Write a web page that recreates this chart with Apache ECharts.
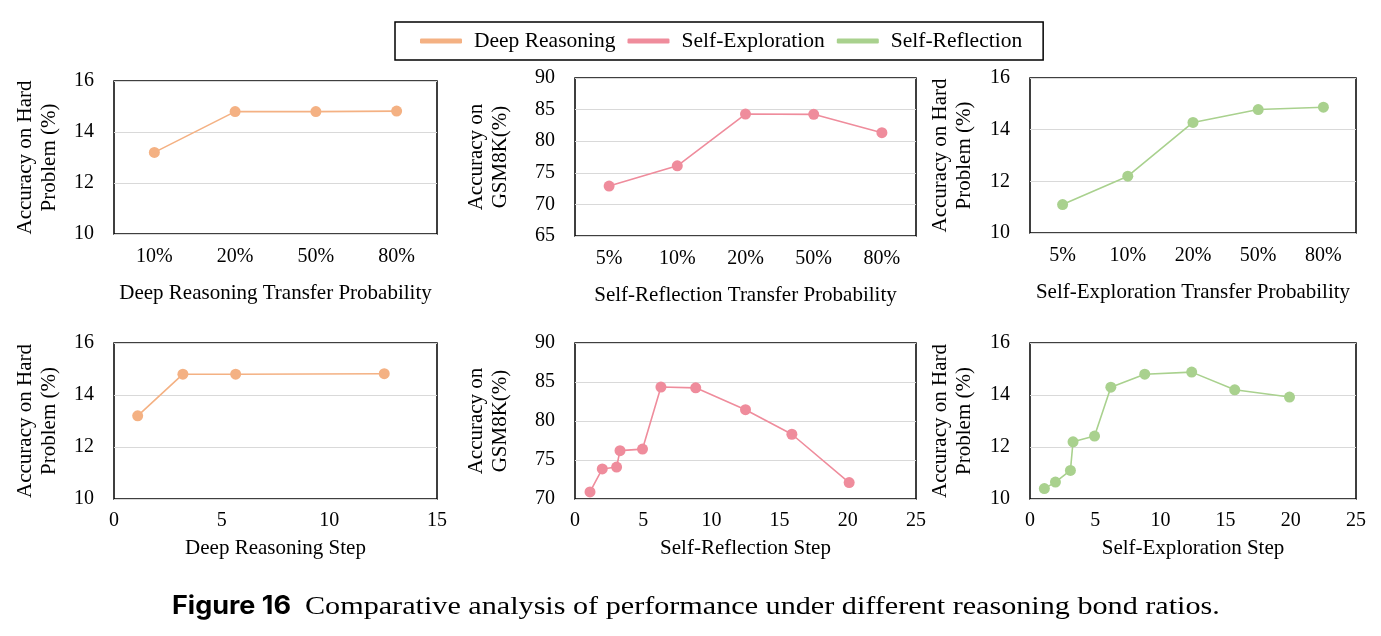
<!DOCTYPE html>
<html>
<head>
<meta charset="utf-8">
<script src="https://cdn.jsdelivr.net/npm/echarts@6/dist/echarts.min.js"></script>
<style>
html,body{margin:0;padding:0;background:#fff;}
#chart{width:1381px;height:636px;}
</style>
</head>
<body>
<div id="chart"></div>
<script>
// ---- data ----
const probCats4 = ['10%', '20%', '50%', '80%'];
const probCats5 = ['5%', '10%', '20%', '50%', '80%'];
const deepProbAcc = [13.2, 14.8, 14.8, 14.82];
const reflProbAcc = [72.9, 76.1, 84.3, 84.25, 81.35];
const explProbAcc = [11.1, 12.2, 14.28, 14.78, 14.87];
const deepStepX = [1.1, 3.2, 5.65, 12.55];
const deepStepAcc = [13.2, 14.8, 14.8, 14.82];
const reflStepX = [1.1, 2.0, 3.05, 3.3, 4.95, 6.3, 8.85, 12.5, 15.9, 20.1];
const reflStepAcc = [70.9, 73.85, 74.1, 76.2, 76.4, 84.35, 84.25, 81.45, 78.3, 72.1];
const explStepX = [1.1, 1.95, 3.1, 3.3, 4.95, 6.2, 8.8, 12.4, 15.7, 19.9];
const explStepAcc = [10.4, 10.65, 11.1, 12.2, 12.42, 14.3, 14.8, 14.88, 14.2, 13.92];
const legendNames = ['Deep Reasoning', 'Self-Exploration', 'Self-Reflection'];
const captionLabel = 'Figure 16';
const captionText = 'Comparative analysis of performance under different reasoning bond ratios.';

const COLORS = { orange: '#F4B183', pink: '#EF8C9C', green: '#A9D18E' };
const FONT = 'Liberation Serif';

const grids = [
  { left: 114, top: 81, width: 323, height: 153 },
  { left: 575, top: 78, width: 341, height: 158 },
  { left: 1030, top: 78, width: 326, height: 155 },
  { left: 114, top: 343, width: 323, height: 156 },
  { left: 575, top: 343, width: 341, height: 156 },
  { left: 1030, top: 343, width: 326, height: 156 }
].map(g => Object.assign({ show: true, borderColor: '#000', borderWidth: 1.5, backgroundColor: 'transparent' }, g));

function zip(xs, ys) { return xs.map((x, i) => [x, ys[i]]); }

const axisLabel = { color: '#000', fontSize: 20, fontFamily: FONT };
const nameStyle = { color: '#000', fontSize: 21, fontFamily: FONT, lineHeight: 24 };

function catX(idx, cats, name) {
  return { type: 'category', gridIndex: idx, data: cats, boundaryGap: true,
    axisLine: { show: false }, axisTick: { show: false },
    axisLabel: Object.assign({ margin: 13 }, axisLabel),
    name: name, nameLocation: 'middle', nameGap: 47, nameTextStyle: nameStyle };
}
function valX(idx, max, name) {
  return { type: 'value', gridIndex: idx, min: 0, max: max, interval: 5,
    axisLine: { show: false }, axisTick: { show: false }, splitLine: { show: false },
    axisLabel: Object.assign({ margin: 12 }, axisLabel),
    name: name, nameLocation: 'middle', nameGap: 37, nameTextStyle: nameStyle };
}
function valY(idx, min, max, interval, name, gap) {
  return { type: 'value', gridIndex: idx, min: min, max: max, interval: interval,
    axisLine: { show: false }, axisTick: { show: false },
    splitLine: { show: true, lineStyle: { color: '#d9d9d9', width: 1 } },
    axisLabel: Object.assign({ margin: 20 }, axisLabel),
    name: name, nameLocation: 'middle', nameRotate: 90, nameGap: gap, nameTextStyle: nameStyle };
}
function line(idx, name, color, data) {
  return { type: 'line', name: name, xAxisIndex: idx, yAxisIndex: idx, data: data,
    symbol: 'circle', symbolSize: 11, itemStyle: { color: color },
    lineStyle: { color: color, width: 1.6 }, animation: false };
}

const hardName = 'Accuracy on Hard\nProblem (%)';
const gsmName = 'Accuracy on\nGSM8K(%)';

const option = {
  backgroundColor: '#fff',
  animation: false,
  grid: grids,
  legend: {
    data: legendNames, left: 395, top: 22,
    padding: [8, 21, 8, 25], itemGap: 12, itemWidth: 42, itemHeight: 5,
    icon: 'roundRect', borderColor: '#000', borderWidth: 1.5,
    textStyle: { color: '#000', fontSize: 21.5, fontFamily: FONT, padding: [0, 0, 0, 7] }
  },
  xAxis: [
    catX(0, probCats4, 'Deep Reasoning Transfer Probability'),
    catX(1, probCats5, 'Self-Reflection Transfer Probability'),
    catX(2, probCats5, 'Self-Exploration Transfer Probability'),
    valX(3, 15, 'Deep Reasoning Step'),
    valX(4, 25, 'Self-Reflection Step'),
    valX(5, 25, 'Self-Exploration Step')
  ],
  yAxis: [
    valY(0, 10, 16, 2, hardName, 53),
    valY(1, 65, 90, 5, gsmName, 63),
    valY(2, 10, 16, 2, hardName, 54),
    valY(3, 10, 16, 2, hardName, 53),
    valY(4, 70, 90, 5, gsmName, 63),
    valY(5, 10, 16, 2, hardName, 54)
  ],
  series: [
    line(0, legendNames[0], COLORS.orange, deepProbAcc),
    line(1, legendNames[1], COLORS.pink, reflProbAcc),
    line(2, legendNames[2], COLORS.green, explProbAcc),
    line(3, legendNames[0], COLORS.orange, zip(deepStepX, deepStepAcc)),
    line(4, legendNames[1], COLORS.pink, zip(reflStepX, reflStepAcc)),
    line(5, legendNames[2], COLORS.green, zip(explStepX, explStepAcc))
  ],
  graphic: [
    { type: 'text', left: 172, top: 594, scaleX: 1.08,
      style: { text: captionLabel, fill: '#000', fontSize: 25, fontWeight: 'bold', fontFamily: 'Inter' } },
    { type: 'text', left: 305, top: 594, scaleX: 1.16,
      style: { text: captionText, fill: '#000', fontSize: 26, fontFamily: FONT } }
  ]
};

const chart = echarts.init(document.getElementById('chart'), null, { renderer: 'canvas' });
chart.setOption(option);
</script>
</body>
</html>
